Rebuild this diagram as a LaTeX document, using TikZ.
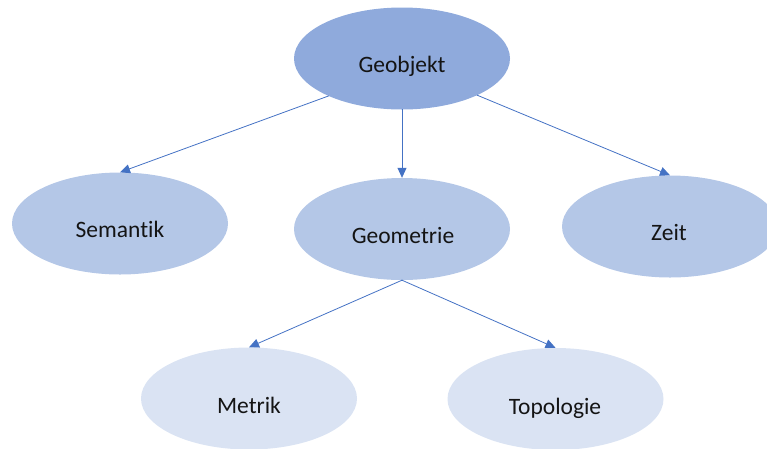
\documentclass[tikz,border=0pt]{standalone}
\usepackage{fontspec}
\setmainfont{Carlito}[Ligatures=NoCommon]
\usetikzlibrary{shapes.geometric,arrows.meta}
\definecolor{topfill}{HTML}{8FAADC}
\definecolor{midfill}{HTML}{B4C7E7}
\definecolor{lowfill}{HTML}{DAE3F3}
\definecolor{linkblue}{HTML}{4472C4}
\tikzset{
  blob/.style={ellipse, draw=none, minimum width=216pt, minimum height=102pt, inner sep=0pt},
  toplevel/.style={blob, fill=topfill},
  midlevel/.style={blob, fill=midfill},
  lowlevel/.style={blob, fill=lowfill},
  caption/.style={font=\fontsize{23.5}{27}\selectfont, text=black!92, inner sep=0pt,
                  text height=16pt, text depth=5pt},
  link/.style={draw=linkblue, line width=0.8pt, -{Triangle[length=10pt,width=9pt]}, shorten <=-0.5pt}
}
\begin{document}
\begin{tikzpicture}[x=1pt,y=-1pt]
  \useasboundingbox (0,0) rectangle (767,448);
  % ellipses
  \node[toplevel] (geo) at (402,58.5) {};
  \node[midlevel] (sem) at (120,223.5) {};
  \node[midlevel] (geom) at (402,229) {};
  \node[midlevel] (zeit) at (670,226.5) {};
  \node[lowlevel] (met) at (249,398.5) {};
  \node[lowlevel] (top) at (555.5,399) {};
  % captions
  \node[caption] (geoT) at (402,67) {Geobjekt};
  \node[caption] (semT) at (120,231.5) {Semantik};
  \node[caption] (geomT) at (403,237.5) {Geometrie};
  \node[caption] (zeitT) at (669,234.5) {Zeit};
  \node[caption] (metT) at (249,407.5) {Metrik};
  \node[caption] (topT) at (555,408.5) {Topologie};
  % connectors
  \draw[link] (geo.207) -- (sem.north);
  \draw[link] (geo.south) -- (geom.north);
  \draw[link] (geo.334) -- (zeit.north);
  \draw[link] (geom.south) -- (met.north);
  \draw[link] (geom.south) -- (top.north);
\end{tikzpicture}
\end{document}
